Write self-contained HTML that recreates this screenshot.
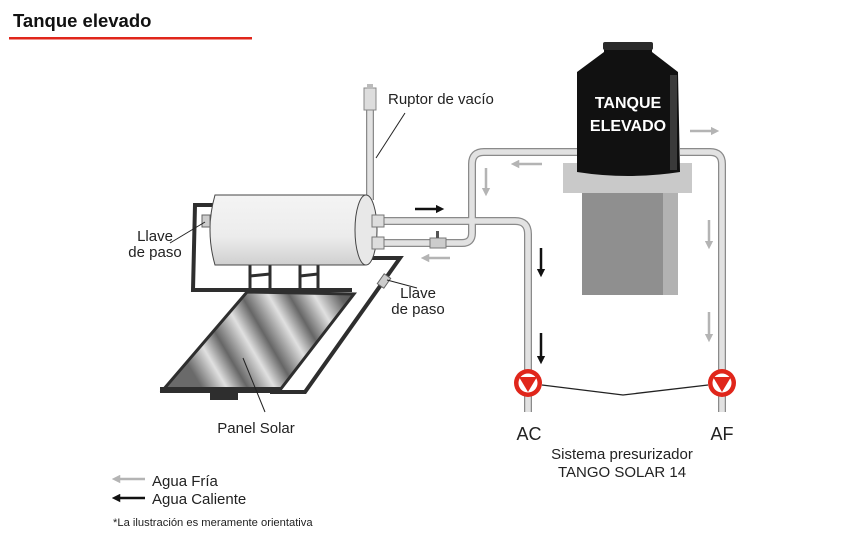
<!DOCTYPE html>
<html><head><meta charset="utf-8"><style>
html,body{margin:0;padding:0;background:#fff;}
svg{display:block;font-family:"Liberation Sans",Arial,sans-serif;}
</style></head><body>
<svg width="853" height="536" viewBox="0 0 853 536" xmlns="http://www.w3.org/2000/svg">
<defs>
<marker id="ag" viewBox="0 0 10 10" refX="5" refY="5" markerWidth="3.4" markerHeight="3.4" orient="auto"><path d="M0,0 L10,5 L0,10z" fill="#b4b4b4"/></marker>
<marker id="ab" viewBox="0 0 10 10" refX="5" refY="5" markerWidth="3.4" markerHeight="3.4" orient="auto"><path d="M0,0 L10,5 L0,10z" fill="#111"/></marker>
<linearGradient id="cyl" x1="0" y1="0" x2="0" y2="1"><stop offset="0" stop-color="#f4f4f4"/><stop offset="0.6" stop-color="#ececec"/><stop offset="1" stop-color="#cfcfcf"/></linearGradient>
<linearGradient id="pan" x1="0" y1="0.3" x2="1" y2="0" >
<stop offset="0" stop-color="#6a6a6a"/><stop offset="0.12" stop-color="#e0e0e0"/><stop offset="0.22" stop-color="#666"/><stop offset="0.35" stop-color="#e0e0e0"/><stop offset="0.45" stop-color="#666"/><stop offset="0.58" stop-color="#e0e0e0"/><stop offset="0.68" stop-color="#666"/><stop offset="0.8" stop-color="#e0e0e0"/><stop offset="0.92" stop-color="#666"/><stop offset="1" stop-color="#555"/></linearGradient>
</defs>

<text x="13" y="27" font-size="18.5" font-weight="bold" fill="#111">Tanque elevado</text>
<rect x="9" y="37" width="243" height="2.5" fill="#e0261b"/>

<!-- stand -->
<rect x="563" y="163" width="129" height="30" fill="#c9c9c9"/>
<rect x="582" y="193" width="81" height="102" fill="#8f8f8f"/>
<rect x="663" y="193" width="15" height="102" fill="#b2b2b2"/>
<!-- tank -->
<path d="M604,46 L652,46 L652,52 L678,72 L680,172 Q628,180 577,172 L577,72 L604,52z" fill="#111"/>
<rect x="603" y="42" width="50" height="8" rx="2" fill="#2a2a2a"/>
<rect x="670" y="75" width="7" height="95" fill="#3a3a3a"/>
<text x="628" y="108" font-size="16" font-weight="bold" fill="#fff" text-anchor="middle">TANQUE</text>
<text x="628" y="131" font-size="16" font-weight="bold" fill="#fff" text-anchor="middle">ELEVADO</text>

<!-- pipes -->
<g fill="none" stroke-linejoin="round">
<g stroke="#8a8a8a" stroke-width="8">
<path d="M370,200 L370,100"/>
<path d="M380,221 L515,221 Q528,221 528,234 L528,412"/>
<path d="M380,243 L462,243 Q472,243 472,233 L472,164 Q472,152 484,152 L577,152"/>
<path d="M680,152 L710,152 Q722,152 722,164 L722,412"/>
</g>
<g stroke="#e2e2e2" stroke-width="5.5">
<path d="M370,200 L370,100"/>
<path d="M380,221 L515,221 Q528,221 528,234 L528,412"/>
<path d="M380,243 L462,243 Q472,243 472,233 L472,164 Q472,152 484,152 L577,152"/>
<path d="M680,152 L710,152 Q722,152 722,164 L722,412"/>
</g>
</g>
<rect x="364" y="88" width="12" height="22" fill="#ddd" stroke="#888"/>
<rect x="367" y="84" width="6" height="5" fill="#bbb"/>
<rect x="430" y="238" width="16" height="10" fill="#ccc" stroke="#777"/>
<rect x="436" y="231" width="3" height="7" fill="#555"/>

<!-- solar frame -->
<g fill="none" stroke="#2e2e2e" stroke-width="4">
<path d="M213,205 L195,205 L193,290 L352,290"/>
<path d="M362,258 L400,258 L305,392 L270,392"/>
</g>
<path d="M247,292 L354,294 L280,390 L163,390z" fill="url(#pan)" stroke="#2e2e2e" stroke-width="3"/>
<rect x="160" y="387" width="122" height="6" fill="#2e2e2e"/>
<rect x="210" y="393" width="28" height="7" fill="#2e2e2e"/>
<!-- legs -->
<g stroke="#2e2e2e" stroke-width="3">
<line x1="250" y1="262" x2="250" y2="290"/><line x1="270" y1="262" x2="270" y2="290"/><line x1="250" y1="276" x2="270" y2="274"/>
<line x1="300" y1="262" x2="300" y2="290"/><line x1="318" y1="262" x2="318" y2="290"/><line x1="300" y1="276" x2="318" y2="274"/>
</g>
<!-- cylinder -->
<path d="M215,195 L365,195 L365,265 L215,265 Q205,230 215,195z" fill="url(#cyl)" stroke="#444" stroke-width="1"/>
<ellipse cx="366" cy="230" rx="11" ry="35" fill="#e8e8e8" stroke="#444"/>
<rect x="372" y="215" width="12" height="12" fill="#ddd" stroke="#777"/>
<rect x="372" y="237" width="12" height="12" fill="#ddd" stroke="#777"/>
<rect x="202" y="215" width="8" height="12" fill="#ccc" stroke="#666"/>
<rect x="380" y="275" width="8" height="12" fill="#ccc" stroke="#666" transform="rotate(35 384 281)"/>

<!-- pumps -->
<g>
<circle cx="528" cy="383" r="14" fill="#e0261b"/><circle cx="528" cy="383" r="9.5" fill="#fff"/><path d="M519,377 L537,377 L528,392z" fill="#e0261b"/>
<circle cx="722" cy="383" r="14" fill="#e0261b"/><circle cx="722" cy="383" r="9.5" fill="#fff"/><path d="M713,377 L731,377 L722,392z" fill="#e0261b"/>
</g>
<path d="M542,385 L623,395 L708,385" fill="none" stroke="#222" stroke-width="1.3"/>

<!-- flow arrows -->
<g stroke-width="2.5" fill="none">
<line x1="415" y1="209" x2="440" y2="209" stroke="#111" marker-end="url(#ab)"/>
<line x1="450" y1="258" x2="425" y2="258" stroke="#b4b4b4" marker-end="url(#ag)"/>
<line x1="542" y1="164" x2="515" y2="164" stroke="#b4b4b4" marker-end="url(#ag)"/>
<line x1="486" y1="168" x2="486" y2="192" stroke="#b4b4b4" marker-end="url(#ag)"/>
<line x1="541" y1="248" x2="541" y2="273" stroke="#111" marker-end="url(#ab)"/>
<line x1="541" y1="333" x2="541" y2="360" stroke="#111" marker-end="url(#ab)"/>
<line x1="690" y1="131" x2="715" y2="131" stroke="#b4b4b4" marker-end="url(#ag)"/>
<line x1="709" y1="220" x2="709" y2="245" stroke="#b4b4b4" marker-end="url(#ag)"/>
<line x1="709" y1="312" x2="709" y2="338" stroke="#b4b4b4" marker-end="url(#ag)"/>
<line x1="145" y1="479" x2="116" y2="479" stroke="#b4b4b4" marker-end="url(#ag)"/>
<line x1="145" y1="498" x2="116" y2="498" stroke="#111" marker-end="url(#ab)"/>
</g>

<!-- leaders -->
<g stroke="#222" stroke-width="1">
<line x1="405" y1="113" x2="376" y2="158"/>
<line x1="170" y1="243" x2="205" y2="222"/>
<line x1="387" y1="280" x2="417" y2="288"/>
<line x1="243" y1="358" x2="265" y2="412"/>
</g>

<g font-size="15" fill="#222">
<text x="388" y="104">Ruptor de vacío</text>
<text x="155" y="241" text-anchor="middle">Llave</text>
<text x="155" y="257" text-anchor="middle">de paso</text>
<text x="418" y="298" text-anchor="middle">Llave</text>
<text x="418" y="314" text-anchor="middle">de paso</text>
<text x="256" y="433" text-anchor="middle">Panel Solar</text>
<text x="622" y="459" text-anchor="middle">Sistema presurizador</text>
<text x="622" y="477" text-anchor="middle">TANGO SOLAR 14</text>
<text x="152" y="486">Agua Fría</text>
<text x="152" y="504">Agua Caliente</text>
</g>
<text x="529" y="440" font-size="18" fill="#222" text-anchor="middle">AC</text>
<text x="722" y="440" font-size="18" fill="#222" text-anchor="middle">AF</text>
<text x="113" y="526" font-size="11.2" fill="#222">*La ilustración es meramente orientativa</text>
</svg>
</body></html>
